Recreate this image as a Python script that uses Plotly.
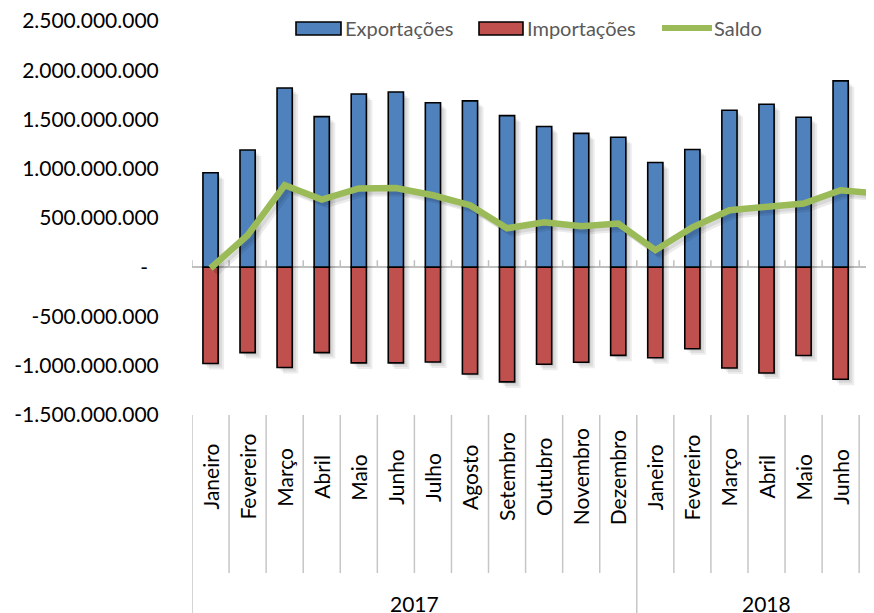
import plotly.graph_objects as go

# month labels per year
meses_2017 = ["Janeiro", "Fevereiro", "Março", "Abril", "Maio", "Junho", "Julho",
              "Agosto", "Setembro", "Outubro", "Novembro", "Dezembro"]
meses_2018 = ["Janeiro", "Fevereiro", "Março", "Abril", "Maio", "Junho", "Julho"]
anos = ["2017", "2018"]

# values (R$)
exportacoes = [960e6, 1190e6, 1820e6, 1530e6, 1760e6, 1780e6, 1670e6, 1690e6, 1540e6, 1430e6,
               1360e6, 1320e6, 1064e6, 1196e6, 1595e6, 1656e6, 1524e6, 1893e6, 1690e6]
importacoes = [-978e6, -867e6, -1019e6, -867e6, -972e6, -972e6, -962e6, -1084e6, -1165e6, -985e6,
               -965e6, -895e6, -920e6, -828e6, -1023e6, -1074e6, -897e6, -1138e6, -945e6]
saldo = [-10e6, 325e6, 833e6, 688e6, 800e6, 805e6, 731e6, 630e6, 396e6, 457e6,
         417e6, 444e6, 173e6, 406e6, 579e6, 613e6, 647e6, 782e6, 750e6]

y_ticks = [2.5e9, 2.0e9, 1.5e9, 1.0e9, 0.5e9, 0, -0.5e9, -1.0e9, -1.5e9]
y_ticktext = ["2.500.000.000", "2.000.000.000", "1.500.000.000", "1.000.000.000", "500.000.000",
              "-\u00a0\u00a0", "-500.000.000", "-1.000.000.000", "-1.500.000.000"]

meses = meses_2017 + meses_2018
x = list(range(len(meses)))

# page body has an 8px margin, so the figure is a bit smaller than the window
OFF = 8
W, H = 874 - OFF, 613 - OFF
ML, MR, MT, MB = 192 - OFF, 0, 21 - OFF, 198
PW, PH = W - ML - MR, H - MT - MB
FONT = "Lato, Carlito, Calibri, sans-serif"
BLUE, RED, GREEN = "#4F81BD", "#C0504D", "#9BBB59"
SEP = "#C6C6C6"
BW = 0.41
XR = [-0.5, 17.9]
XU = (XR[1] - XR[0]) / PW   # x units per pixel
YU = 4e9 / PH               # y units per pixel


def px_x(px):
    # window pixel -> paper x
    return (px - OFF - ML) / PW


def px_y(py):
    # window pixel -> paper y
    return (H - MB - (py - OFF)) / PH


def cat_x(i):
    # category position -> paper x (lets labels past the range edge still show)
    return (i - XR[0]) / (XR[1] - XR[0])


fig = go.Figure()

# soft drop shadows (a few faint layers)
for d in (2, 4, 6):
    for vals in (exportacoes, importacoes):
        fig.add_trace(go.Bar(x=x, y=vals, base=-d * YU, width=BW, offset=-BW / 2 + d * XU,
                             marker=dict(color="rgba(0,0,0,0.07)", line=dict(width=0)),
                             hoverinfo="skip"))
for d in (3, 5):
    fig.add_trace(go.Scatter(x=[v + d * XU for v in x], y=[v - d * YU for v in saldo],
                             mode="lines", line=dict(color="rgba(0,0,0,0.08)", width=6.5),
                             hoverinfo="skip"))

fig.add_trace(go.Bar(x=x, y=exportacoes, name="Exportações", width=BW, offset=-BW / 2,
                     marker=dict(color=BLUE, line=dict(color="black", width=1.6))))
fig.add_trace(go.Bar(x=x, y=importacoes, name="Importações", width=BW, offset=-BW / 2,
                     marker=dict(color=RED, line=dict(color="black", width=1.6))))
fig.add_trace(go.Scatter(x=x, y=saldo, name="Saldo", mode="lines",
                         line=dict(color=GREEN, width=6.5)))

shapes = []
annotations = []

# little tick marks on the zero line
for i in range(len(meses)):
    shapes.append(dict(type="line", xref="x", yref="y", x0=i - 0.5, x1=i - 0.5,
                       y0=0, y1=7 * YU, line=dict(color="#BFBFBF", width=1.5), layer="below"))

# category separators in label band
n17 = len(meses_2017)
for i in range(len(meses)):
    bottom = 613 if i in (0, n17) else 573
    shapes.append(dict(type="line", xref="x", yref="paper", x0=i - 0.5, x1=i - 0.5,
                       y0=px_y(415), y1=px_y(bottom), line=dict(color=SEP, width=1.5)))

# month labels
for i, m in enumerate(meses):
    annotations.append(dict(x=cat_x(i), y=px_y(477), xref="paper", yref="paper", text=m,
                            textangle=-90, showarrow=False, xanchor="center", yanchor="middle",
                            font=dict(family=FONT, size=21, color="black")))

# year labels
annotations.append(dict(x=cat_x((n17 - 1) / 2), y=px_y(603), xref="paper", yref="paper",
                        text=anos[0], showarrow=False, xanchor="center", yanchor="middle",
                        font=dict(family=FONT, size=21, color="black")))
annotations.append(dict(x=cat_x(n17 + (len(meses_2018) - 1) / 2), y=px_y(603), xref="paper",
                        yref="paper", text=anos[1], showarrow=False, xanchor="center",
                        yanchor="middle", font=dict(family=FONT, size=21, color="black")))

# legend (drawn by hand to get wide swatches)
leg = [("Exportações", BLUE, 296, 341), ("Importações", RED, 479, 523)]
for name, col, a, b in leg:
    shapes.append(dict(type="rect", xref="paper", yref="paper", x0=px_x(a), x1=px_x(b),
                       y0=px_y(22), y1=px_y(35), fillcolor=col,
                       line=dict(color="black", width=1.6)))
    annotations.append(dict(x=px_x(b + 2), y=px_y(28), xref="paper", yref="paper", text=name,
                            showarrow=False, xanchor="left", yanchor="middle",
                            font=dict(family=FONT, size=20, color="#595959")))
shapes.append(dict(type="line", xref="paper", yref="paper", x0=px_x(662), x1=px_x(712),
                   y0=px_y(28), y1=px_y(28), line=dict(color=GREEN, width=6)))
annotations.append(dict(x=px_x(712), y=px_y(28), xref="paper", yref="paper", text="Saldo",
                        showarrow=False, xanchor="left", yanchor="middle",
                        font=dict(family=FONT, size=20, color="#595959")))

fig.update_layout(
    width=W, height=H,
    margin=dict(l=ML, r=MR, t=MT, b=MB, pad=0),
    paper_bgcolor="white", plot_bgcolor="white",
    barmode="overlay", showlegend=False,
    font=dict(family=FONT, size=21, color="black"),
    xaxis=dict(range=XR, showticklabels=False, showgrid=False,
               zeroline=False, showline=False, ticks=""),
    yaxis=dict(range=[-1.5e9 - 1e6, 2.5e9 + 1e6], tickvals=y_ticks, ticktext=y_ticktext,
               showgrid=False, zeroline=True, zerolinecolor="#BFBFBF", zerolinewidth=2,
               showline=False, ticks="outside", ticklen=28, tickcolor="rgba(0,0,0,0)",
               ticklabeloverflow="allow",
               tickfont=dict(family=FONT, size=21, color="black")),
    shapes=shapes, annotations=annotations,
)

fig.write_html("out.html")
